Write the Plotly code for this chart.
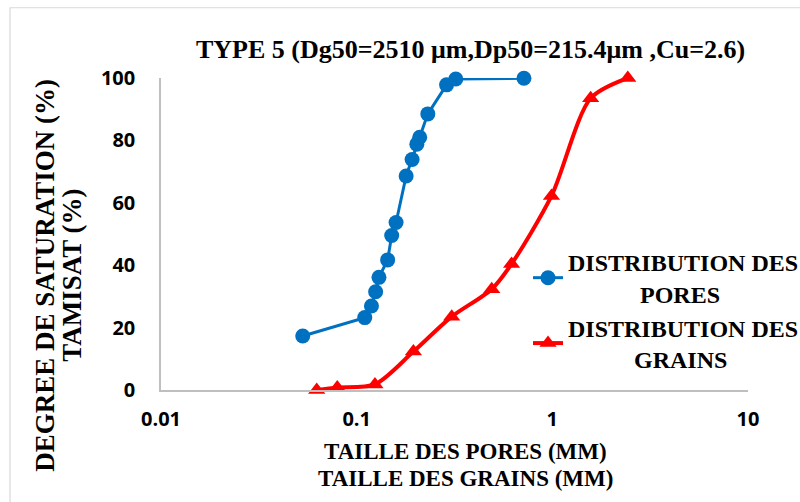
import plotly.graph_objects as go

# Data
pores_size = [0.053, 0.110, 0.119, 0.125, 0.130, 0.144, 0.151, 0.159, 0.179,
              0.192, 0.203, 0.210, 0.231, 0.288, 0.321, 0.716]
pores_sat = [17.3, 23.2, 26.9, 31.5, 36.1, 41.7, 49.5, 53.7, 68.6,
             73.9, 78.8, 81.0, 88.5, 97.8, 99.7, 99.9]

grains_size = [0.0625, 0.0796, 0.124, 0.195, 0.306, 0.490, 0.619, 0.99, 1.57, 2.43]
grains_pass = [0.0, 0.8, 1.8, 12.3, 23.5, 32.3, 40.4, 62.2, 93.5, 100.0]

x_tickvals = [0.01, 0.1, 1, 10]
x_ticktext = ["0.01", "0.1", "1", "10"]
y_tickvals = [0, 20, 40, 60, 80, 100]

NB = "\u00a0"
name_pores = "DISTRIBUTION DES<br>" + NB * 12 + "PORES"
name_grains = "DISTRIBUTION DES<br>" + NB * 11 + "GRAINS"
title_text = "TYPE 5 (Dg50=2510 \u03bcm,Dp50=215.4\u03bcm ,Cu=2.6)"

W, H = 800, 502
L, R, T, B = 161, 52, 77.5, 111.5
PW, PH = W - L - R, H - T - B


def px_x(px):
    return (px - L) / PW


def px_y(py):
    return (H - B - py) / PH


serif = "Liberation Serif"

fig = go.Figure()
fig.add_trace(go.Scatter(
    x=pores_size, y=pores_sat, name=name_pores, mode="lines+markers",
    line=dict(color="#0070C0", width=3),
    marker=dict(symbol="circle", size=15, color="#0070C0"),
    cliponaxis=False,
))
fig.add_trace(go.Scatter(
    x=grains_size, y=grains_pass, name=name_grains, mode="lines+markers",
    line=dict(color="#FF0000", width=4, shape="spline", smoothing=0.8),
    marker=dict(symbol="triangle-up", size=15, color="#FF0000"),
    cliponaxis=False,
))

fig.update_layout(
    width=W, height=H,
    margin=dict(l=L, r=R, t=T, b=B, autoexpand=False),
    paper_bgcolor="white", plot_bgcolor="white",
    showlegend=True,
    legend=dict(
        x=px_x(528), y=px_y(240), xanchor="left", yanchor="top",
        font=dict(family=serif, size=24, color="black", weight="bold"),
        bgcolor="rgba(0,0,0,0)", tracegroupgap=4,
    ),
    xaxis=dict(
        type="log", range=[-2, 1],
        tickvals=x_tickvals, ticktext=x_ticktext,
        showgrid=False, zeroline=False,
        showline=True, linecolor="#BFBFBF", linewidth=1.5,
        ticks="", ticklabelstandoff=10,
        tickfont=dict(family="Open Sans", size=20, color="black", weight="bold"),
    ),
    yaxis=dict(
        range=[0, 100], tickvals=y_tickvals,
        showgrid=False, zeroline=False,
        showline=True, linecolor="#BFBFBF", linewidth=1.5,
        ticks="", ticklabelstandoff=20,
        tickfont=dict(family="Open Sans", size=20, color="black", weight="bold"),
    ),
    shapes=[dict(
        type="rect", xref="paper", yref="paper",
        x0=px_x(10), x1=px_x(810), y0=px_y(512), y1=px_y(7),
        line=dict(color="#D9D9D9", width=1.2), fillcolor="rgba(0,0,0,0)",
        layer="below",
    )],
    annotations=[
        dict(text=title_text, xref="paper", yref="paper",
             x=px_x(470), y=px_y(49), showarrow=False,
             xanchor="center", yanchor="middle",
             font=dict(family=serif, size=26, color="black", weight="bold")),
        dict(text="TAILLE DES PORES (MM)", xref="paper", yref="paper",
             x=px_x(465), y=px_y(452), showarrow=False,
             xanchor="center", yanchor="middle",
             font=dict(family=serif, size=23, color="black", weight="bold")),
        dict(text="TAILLE DES GRAINS (MM)", xref="paper", yref="paper",
             x=px_x(465), y=px_y(479), showarrow=False,
             xanchor="center", yanchor="middle",
             font=dict(family=serif, size=23, color="black", weight="bold")),
        dict(text="DEGREE DE SATURATION (%)", xref="paper", yref="paper",
             x=px_x(45), y=px_y(276), showarrow=False, textangle=-90,
             xanchor="center", yanchor="middle",
             font=dict(family=serif, size=27, color="black", weight="bold")),
        dict(text="TAMISAT (%)", xref="paper", yref="paper",
             x=px_x(72), y=px_y(276), showarrow=False, textangle=-90,
             xanchor="center", yanchor="middle",
             font=dict(family=serif, size=27, color="black", weight="bold")),
    ],
)

fig.write_html("out.html")
